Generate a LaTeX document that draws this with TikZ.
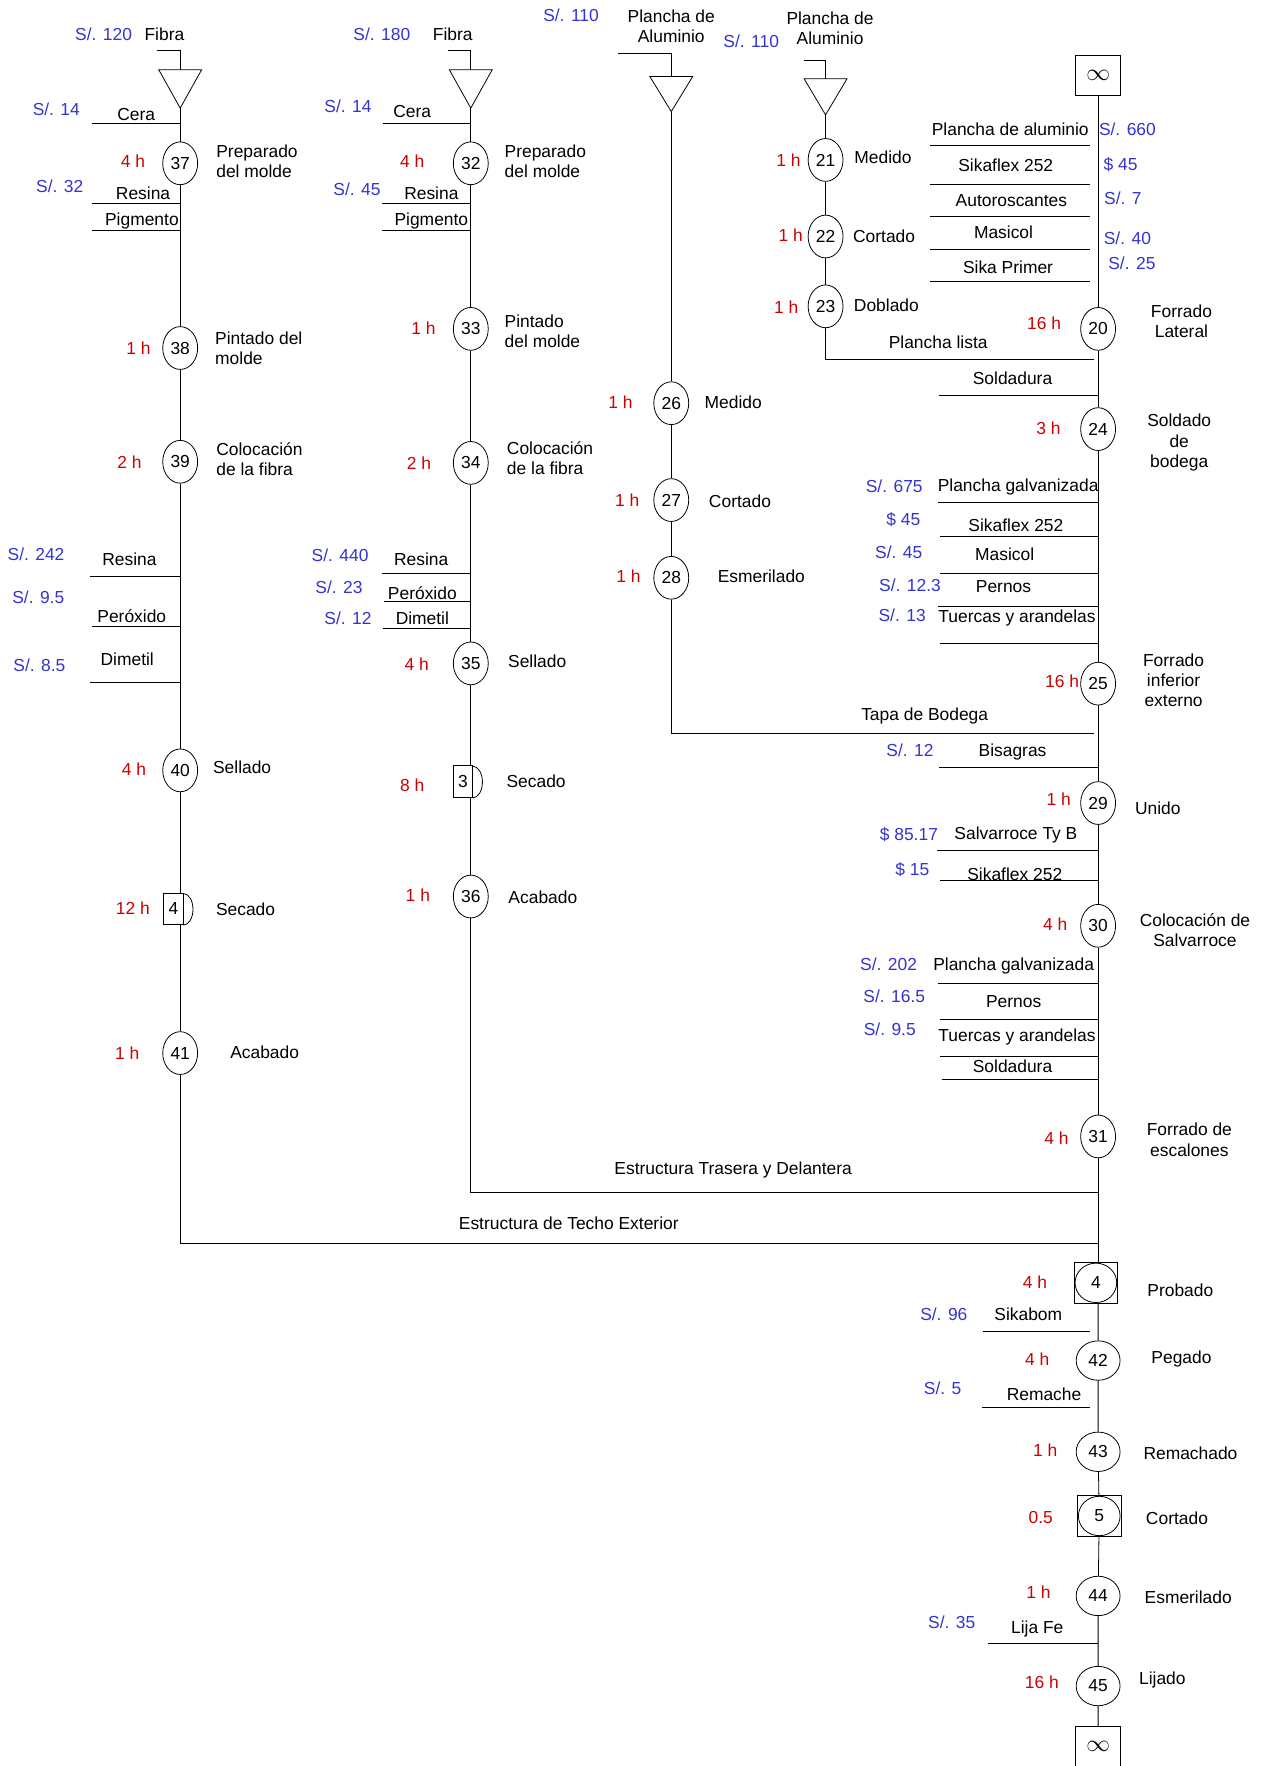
\documentclass[tikz,border=0pt]{standalone}
\usepackage{fontspec}
\setmainfont{Liberation Sans}
\usetikzlibrary{shapes.geometric}
\definecolor{costblue}{RGB}{51,51,210}
\definecolor{timered}{RGB}{204,0,0}
\tikzset{
  op/.style={draw, ellipse, inner sep=0pt, minimum width=0.62cm, minimum height=0.76cm, font=\fontsize{8.8}{10.2}\selectfont},
  opw/.style={draw, ellipse, inner sep=0pt, minimum width=0.78cm, minimum height=0.70cm, font=\fontsize{8.8}{10.2}\selectfont},
  endbox/.style={draw, rectangle, inner sep=0pt, minimum width=0.8cm, minimum height=0.72cm, font=\fontsize{13}{13}\selectfont},
  dlybox/.style={draw, rectangle, inner sep=0pt, minimum width=0.34cm, minimum height=0.56cm, font=\fontsize{8.8}{10.2}\selectfont},
  combo/.style={draw, rectangle, inner sep=0pt, minimum width=0.78cm, minimum height=0.74cm},
  lbl/.style={inner sep=1pt, font=\fontsize{8.8}{10.2}\selectfont},
  cost/.style={lbl, text=costblue},
  tim/.style={lbl, text=timered}
}
\begin{document}
\begin{tikzpicture}[x=0.02cm, y=-0.02cm]
    \useasboundingbox (0,0) rectangle (1122,1568);

    % ---- column A: techo exterior
    \coordinate (fA) at (139,45);
    \coordinate (fAc) at (160,45);
    \coordinate (tA1) at (141,62);
    \coordinate (tAm) at (160,62);
    \coordinate (tA2) at (179,62);
    \coordinate (aA) at (160,96);

    \node [cost] (cFibraA) at (92,30) {S/. 120};
    \node [lbl] (nFibraA) at (146,30) {Fibra};
    \draw (fA) -- (fAc) -- (tAm);
    \draw (tA1) -- (tA2) -- (aA) -- cycle;

    \node [op] (o37) at (160,145) {37};
    \node [op] (o38) at (160,309) {38};
    \node [op] (o39) at (160,410) {39};
    \node [op] (o40) at (160,684) {40};
    \node [dlybox] (s4) at (154,807) {4};
    \draw (s4.south east) arc [start angle=-90, end angle=90, x radius=0.17cm, y radius=0.28cm];
    \node [op] (o41) at (160,935) {41};
    \coordinate (cA) at (160,1104);
    \coordinate (jA) at (975,1104);

    \draw (aA) -- (o37) -- (o38) -- (o39) -- (o40);
    \draw (o40) -- (s4.north -| o40);
    \draw (s4.south -| o40) -- (o41) -- (cA) -- (jA);

    \coordinate (ceraA) at (82,110);
    \coordinate (resA) at (82,181);
    \coordinate (pigA) at (82,205);
    \coordinate (res2A) at (80,512);
    \coordinate (perA) at (82,556);
    \coordinate (dimA) at (80,606);
    \draw (ceraA) -- (ceraA -| aA);
    \draw (resA) -- (resA -| aA);
    \draw (pigA) -- (pigA -| aA);
    \draw (res2A) -- (res2A -| aA);
    \draw (perA) -- (perA -| aA);
    \draw (dimA) -- (dimA -| aA);

    \node [lbl] (nCeraA) at (121,102) {Cera};
    \node [cost] (cCeraA) at (50,97) {S/. 14};
    \node [lbl] (nResA) at (127,172) {Resina};
    \node [cost] (cResA) at (53,165) {S/. 32};
    \node [lbl] (nPigA) at (126,196) {Pigmento};
    \node [lbl] (nRes2A) at (115,497) {Resina};
    \node [cost] (cRes2A) at (32,492) {S/. 242};
    \node [lbl] (nPerA) at (117,547) {Peróxido};
    \node [cost] (cPerA) at (34,530) {S/. 9.5};
    \node [lbl] (nDimA) at (113,585) {Dimetil};
    \node [cost] (cDimA) at (35,591) {S/. 8.5};

    \node [tim] (h37) at (118,143) {4 h};
    \node [tim] (h38) at (123,309) {1 h};
    \node [tim] (h39) at (115,410) {2 h};
    \node [tim] (h40) at (119,683) {4 h};
    \node [tim] (hs4) at (118,806) {12 h};
    \node [tim] (h41) at (113,935) {1 h};

    \node [lbl, anchor=west, align=left] (t37) at (190,143) {Preparado\\del molde};
    \node [lbl, anchor=west, align=left] (t38) at (189,309) {Pintado del\\molde};
    \node [lbl, anchor=west, align=left] (t39) at (190,408) {Colocación\\de la fibra};
    \node [lbl] (t40) at (215,681) {Sellado};
    \node [lbl] (ts4) at (218,807) {Secado};
    \node [lbl] (t41) at (235,934) {Acabado};
    \node [lbl] (tTecho) at (505,1086) {Estructura de Techo Exterior};

    % ---- column B: trasera y delantera
    \coordinate (fB) at (398,45);
    \coordinate (fBc) at (418,45);
    \coordinate (tB1) at (399,62);
    \coordinate (tBm) at (418,62);
    \coordinate (tB2) at (437,62);
    \coordinate (aB) at (418,96);

    \node [cost] (cFibraB) at (339,30) {S/. 180};
    \node [lbl] (nFibraB) at (402,30) {Fibra};
    \draw (fB) -- (fBc) -- (tBm);
    \draw (tB1) -- (tB2) -- (aB) -- cycle;

    \node [op] (o32) at (418,145) {32};
    \node [op] (o33) at (418,292) {33};
    \node [op] (o34) at (418,411) {34};
    \node [op] (o35) at (418,589) {35};
    \node [dlybox] (s3) at (411,694) {3};
    \draw (s3.south east) arc [start angle=-90, end angle=90, x radius=0.17cm, y radius=0.28cm];
    \node [op] (o36) at (418,796) {36};
    \coordinate (cB) at (418,1059);
    \coordinate (jB) at (975,1059);

    \draw (aB) -- (o32) -- (o33) -- (o34) -- (o35);
    \draw (o35) -- (s3.north -| o35);
    \draw (s3.south -| o35) -- (o36) -- (cB) -- (jB);

    \coordinate (ceraB) at (340,110);
    \coordinate (resB) at (339,181);
    \coordinate (pigB) at (339,205);
    \coordinate (res2B) at (339,509);
    \coordinate (perB) at (341,534);
    \coordinate (dimB) at (340,558);
    \draw (ceraB) -- (ceraB -| aB);
    \draw (resB) -- (resB -| aB);
    \draw (pigB) -- (pigB -| aB);
    \draw (res2B) -- (res2B -| aB);
    \draw (perB) -- (perB -| aB);
    \draw (dimB) -- (dimB -| aB);

    \node [lbl] (nCeraB) at (366,99) {Cera};
    \node [cost] (cCeraB) at (309,94) {S/. 14};
    \node [lbl] (nResB) at (383,172) {Resina};
    \node [cost] (cResB) at (317,168) {S/. 45};
    \node [lbl] (nPigB) at (383,196) {Pigmento};
    \node [lbl] (nRes2B) at (374,497) {Resina};
    \node [cost] (cRes2B) at (302,493) {S/. 440};
    \node [lbl] (nPerB) at (375,527) {Peróxido};
    \node [cost] (cPerB) at (301,521) {S/. 23};
    \node [lbl] (nDimB) at (375,549) {Dimetil};
    \node [cost] (cDimB) at (309,549) {S/. 12};

    \node [tim] (h32) at (366,143) {4 h};
    \node [tim] (h33) at (376,291) {1 h};
    \node [tim] (h34) at (372,411) {2 h};
    \node [tim] (h35) at (370,590) {4 h};
    \node [tim] (hs3) at (366,697) {8 h};
    \node [tim] (h36) at (371,795) {1 h};

    \node [lbl, anchor=west, align=left] (t32) at (446,143) {Preparado\\del molde};
    \node [lbl, anchor=west, align=left] (t33) at (446,294) {Pintado\\del molde};
    \node [lbl, anchor=west, align=left] (t34) at (448,407) {Colocación\\de la fibra};
    \node [lbl] (t35) at (477,587) {Sellado};
    \node [lbl] (ts3) at (476,694) {Secado};
    \node [lbl] (t36) at (482,797) {Acabado};
    \node [lbl] (tTrasera) at (651,1039) {Estructura Trasera y Delantera};

    % ---- column C: tapa de bodega
    \coordinate (fC) at (549,47);
    \coordinate (fCc) at (596,47);
    \coordinate (tC1) at (577,68);
    \coordinate (tCm) at (596,68);
    \coordinate (tC2) at (615,68);
    \coordinate (aC) at (596,99);

    \node [cost] (cPlC) at (507,14) {S/. 110};
    \node [lbl, align=center] (nPlC) at (596,23) {Plancha de\\Aluminio};
    \draw (fC) -- (fCc) -- (tCm);
    \draw (tC1) -- (tC2) -- (aC) -- cycle;

    \node [op] (o26) at (596,358) {26};
    \node [op] (o27) at (596,444) {27};
    \node [op] (o28) at (596,513) {28};
    \coordinate (cC) at (596,651);
    \coordinate (jC) at (971,651);
    \draw (aC) -- (o26) -- (o27) -- (o28) -- (cC) -- (jC);

    \node [tim] (h26) at (551,357) {1 h};
    \node [tim] (h27) at (557,444) {1 h};
    \node [tim] (h28) at (558,512) {1 h};
    \node [lbl] (t26) at (651,357) {Medido};
    \node [lbl] (t27) at (657,445) {Cortado};
    \node [lbl] (t28) at (676,512) {Esmerilado};
    \node [lbl] (tTapa) at (821,636) {Tapa de Bodega};

    % ---- column D: plancha lista
    \coordinate (fD) at (714,54);
    \coordinate (fDc) at (733,54);
    \coordinate (tD1) at (714,70);
    \coordinate (tDm) at (733,70);
    \coordinate (tD2) at (752,70);
    \coordinate (aD) at (733,102);

    \node [cost] (cPlD) at (667,37) {S/. 110};
    \node [lbl, align=center] (nPlD) at (737,25) {Plancha de\\Aluminio};
    \draw (fD) -- (fDc) -- (tDm);
    \draw (tD1) -- (tD2) -- (aD) -- cycle;

    \node [op] (o21) at (733,142) {21};
    \node [op] (o22) at (733,210) {22};
    \node [op] (o23) at (733,272) {23};
    \coordinate (cD) at (733,319);
    \coordinate (jD) at (971,319);
    \draw (aD) -- (o21) -- (o22) -- (o23) -- (cD) -- (jD);

    \node [tim] (h21) at (700,142) {1 h};
    \node [tim] (h22) at (702,209) {1 h};
    \node [tim] (h23) at (698,273) {1 h};
    \node [lbl] (t21) at (784,140) {Medido};
    \node [lbl] (t22) at (785,210) {Cortado};
    \node [lbl] (t23) at (787,271) {Doblado};
    \node [lbl] (tLista) at (833,304) {Plancha lista};

    % ---- column E: main line
    \node [endbox] (inf1) at (975,67) {$\infty$};
    \node [op] (o20) at (975,292) {20};
    \node [op] (o24) at (975,381) {24};
    \node [op] (o25) at (975,607) {25};
    \node [op] (o29) at (975,713) {29};
    \node [op] (o30) at (975,822) {30};
    \node [op] (o31) at (975,1009) {31};
    \node [combo] (p4) at (973,1139) {};
    \node [opw, minimum width=0.74cm] (p4c) at (973,1139) {4};
    \node [opw] (o42) at (975,1208) {42};
    \node [opw] (o43) at (975,1289) {43};
    \node [combo] (p5) at (976,1346) {};
    \node [opw, minimum width=0.74cm] (p5c) at (976,1346) {5};
    \node [opw] (o44) at (975,1417) {44};
    \node [opw] (o45) at (975,1497) {45};
    \node [endbox] (inf2) at (975,1551) {$\infty$};

    \draw (inf1) -- (o20) -- (o24) -- (o25) -- (o29) -- (o30) -- (o31) -- (p4.north -| o31);
    \draw (p4.south -| o42) -- (o42) -- (o43) -- (p5) -- (o44) -- (o45) -- (inf2);

    % inputs to column E
    \coordinate (gapE) at (968,0);
    \coordinate (mE1) at (826,129);
    \coordinate (mE2) at (826,164);
    \coordinate (mE3) at (826,192);
    \coordinate (mE4) at (826,221);
    \coordinate (mE5) at (826,250);
    \draw (mE1) -- (mE1 -| gapE);
    \draw (mE2) -- (mE2 -| gapE);
    \draw (mE3) -- (mE3 -| gapE);
    \draw (mE4) -- (mE4 -| gapE);
    \draw (mE5) -- (mE5 -| gapE);
    \node [lbl] (nE1) at (897,115) {Plancha de aluminio};
    \node [cost] (cE1) at (1001,115) {S/. 660};
    \node [lbl] (nE2) at (893,147) {Sikaflex 252};
    \node [cost] (cE2) at (995,146) {\$ 45};
    \node [lbl] (nE3) at (898,178) {Autoroscantes};
    \node [cost] (cE3) at (997,176) {S/. 7};
    \node [lbl] (nE4) at (891,206) {Masicol};
    \node [cost] (cE4) at (1001,212) {S/. 40};
    \node [lbl] (nE5) at (895,237) {Sika Primer};
    \node [cost] (cE5) at (1005,234) {S/. 25};

    \coordinate (sol1) at (834,351);
    \coordinate (mE6) at (833,446);
    \coordinate (mE7) at (835,476);
    \coordinate (mE8) at (835,509);
    \coordinate (mE9) at (833,538);
    \coordinate (mE10) at (835,571);
    \coordinate (mE11) at (834,681);
    \coordinate (mE12) at (832,755);
    \coordinate (mE13) at (835,782);
    \coordinate (mE14) at (833,873);
    \coordinate (mE15) at (835,905);
    \coordinate (mE16) at (835,938);
    \coordinate (sol2) at (836,958);
    \coordinate (mE17) at (873,1182);
    \coordinate (mE18) at (872,1250);
    \coordinate (mE19) at (877,1459);
    \draw (sol1) -- (sol1 -| o20);
    \draw (mE6) -- (mE6 -| o20);
    \draw (mE7) -- (mE7 -| o20);
    \draw (mE8) -- (mE8 -| o20);
    \draw (mE9) -- (mE9 -| o20);
    \draw (mE10) -- (mE10 -| o20);
    \draw (mE11) -- (mE11 -| o20);
    \draw (mE12) -- (mE12 -| o20);
    \draw (mE13) -- (mE13 -| o20);
    \draw (mE14) -- (mE14 -| o20);
    \draw (mE15) -- (mE15 -| o20);
    \draw (mE16) -- (mE16 -| o20);
    \draw (sol2) -- (sol2 -| o20);
    \draw (mE17) -- (mE17 -| gapE);
    \draw (mE18) -- (mE18 -| gapE);
    \draw (mE19) -- (mE19 -| o20);

    \node [lbl] (nSol1) at (899,336) {Soldadura};
    \node [lbl] (nE6) at (904,432) {Plancha galvanizada};
    \node [cost] (cE6) at (794,432) {S/. 675};
    \node [lbl] (nE7) at (902,466) {Sikaflex 252};
    \node [cost] (cE7) at (802,461) {\$ 45};
    \node [lbl] (nE8) at (892,492) {Masicol};
    \node [cost] (cE8) at (798,490) {S/. 45};
    \node [lbl] (nE9) at (891,521) {Pernos};
    \node [cost] (cE9) at (808,520) {S/. 12.3};
    \node [lbl] (nE10) at (903,549) {Tuercas y arandelas};
    \node [cost] (cE10) at (801,546) {S/. 13};
    \node [lbl] (nE11) at (899,668) {Bisagras};
    \node [cost] (cE11) at (808,666) {S/. 12};
    \node [lbl] (nE12) at (902,741) {Salvarroce Ty B};
    \node [cost] (cE12) at (807,741) {\$ 85.17};
    \node [lbl] (nE13) at (901,776) {Sikaflex 252};
    \node [cost] (cE13) at (810,772) {\$ 15};
    \node [lbl] (nE14) at (900,858) {Plancha galvanizada};
    \node [cost] (cE14) at (789,856) {S/. 202};
    \node [lbl] (nE15) at (900,889) {Pernos};
    \node [cost] (cE15) at (794,885) {S/. 16.5};
    \node [lbl] (nE16) at (903,921) {Tuercas y arandelas};
    \node [cost] (cE16) at (790,914) {S/. 9.5};
    \node [lbl] (nSol2) at (899,947) {Soldadura};
    \node [lbl] (nE17) at (913,1167) {Sikabom};
    \node [cost] (cE17) at (838,1167) {S/. 96};
    \node [lbl] (nE18) at (927,1238) {Remache};
    \node [cost] (cE18) at (837,1233) {S/. 5};
    \node [lbl] (nE19) at (921,1446) {Lija Fe};
    \node [cost] (cE19) at (845,1440) {S/. 35};

    \node [tim] (h20) at (927,287) {16 h};
    \node [tim] (h24) at (931,380) {3 h};
    \node [tim] (h25) at (943,605) {16 h};
    \node [tim] (h29) at (940,710) {1 h};
    \node [tim] (h30) at (937,821) {4 h};
    \node [tim] (h31) at (938,1011) {4 h};
    \node [tim] (hp4) at (919,1138) {4 h};
    \node [tim] (h42) at (921,1207) {4 h};
    \node [tim] (h43) at (928,1288) {1 h};
    \node [tim] (hp5) at (924,1347) {0.5};
    \node [tim] (h44) at (922,1414) {1 h};
    \node [tim] (h45) at (925,1494) {16 h};

    \node [lbl, align=center] (t20) at (1049,285) {Forrado\\Lateral};
    \node [lbl, align=center] (t24) at (1047,393) {Soldado\\de\\bodega};
    \node [lbl, align=center] (t25) at (1042,604) {Forrado\\inferior\\externo};
    \node [lbl] (t29) at (1028,718) {Unido};
    \node [lbl, align=center] (t30) at (1061,826) {Colocación de\\Salvarroce};
    \node [lbl, align=center] (t31) at (1056,1012) {Forrado de\\escalones};
    \node [lbl] (tp4) at (1048,1146) {Probado};
    \node [lbl] (t42) at (1049,1207) {Pegado};
    \node [lbl] (t43) at (1057,1290) {Remachado};
    \node [lbl] (tp5) at (1045,1348) {Cortado};
    \node [lbl] (t44) at (1055,1418) {Esmerilado};
    \node [lbl] (t45) at (1032,1492) {Lijado};
  \end{tikzpicture}
\end{document}
